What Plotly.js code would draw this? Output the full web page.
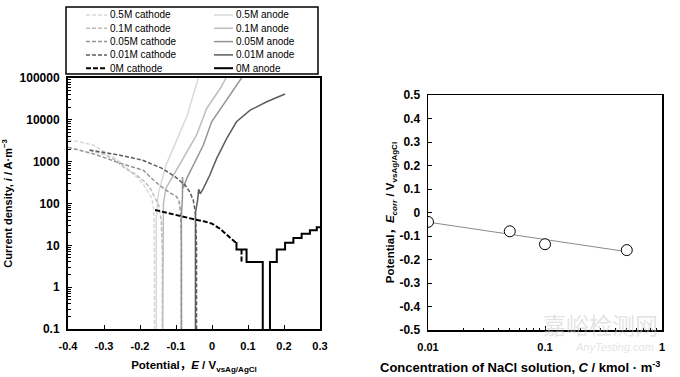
<!DOCTYPE html>
<html><head><meta charset="utf-8">
<script src="https://cdn.plot.ly/plotly-3.0.1.min.js"></script>
<style>html,body{margin:0;padding:0;background:#fff}#chart{width:680px;height:377px}</style>
</head><body><div id="chart"></div>
<script>
// ---------- Left panel: polarization curves (E in V vs Ag/AgCl, i in A/m^3) ----------
const cath05E = [-0.40,-0.37,-0.33,-0.30,-0.265,-0.228,-0.205,-0.19,-0.178,-0.170,-0.165,-0.162,-0.161,-0.160,-0.160];
const cath05I = [3400,3000,2500,1750,1150,600,400,280,200,150,110,70,30,5,0.1];
const cath01E = [-0.34,-0.30,-0.27,-0.242,-0.21,-0.186,-0.17,-0.158,-0.148,-0.141,-0.138,-0.138];
const cath01I = [1850,1500,1100,700,480,330,220,140,90,40,8,0.1];
const cath005E = [-0.40,-0.33,-0.26,-0.21,-0.19,-0.168,-0.145,-0.121,-0.10,-0.092,-0.087,-0.085,-0.085];
const cath005I = [2200,1550,950,680,620,400,270,190,150,120,60,10,0.1];
const cath001E = [-0.34,-0.30,-0.26,-0.195,-0.14,-0.103,-0.075,-0.062,-0.052,-0.046,-0.043,-0.043];
const cath001I = [1900,1650,1450,1100,700,440,275,190,120,60,10,0.1];
const cath0E = [-0.158,-0.12,-0.10,-0.07,-0.05,-0.02,0.0,0.022,0.041,0.055,0.064,0.068,null,0.082,0.082];
const cath0I = [70,58,52,46,42,37,33,25,17.5,14,12,12,null,8,4];

const anod05E = [-0.155,-0.155,-0.150,-0.144,-0.126,-0.10,-0.07,-0.038];
const anod05I = [0.1,40,150,260,900,3000,12000,100000];
const anod01E = [-0.137,-0.137,-0.135,-0.128,-0.107,-0.08,-0.043,-0.015,0.013,0.025,0.039];
const anod01I = [0.1,50,100,230,480,1200,4300,18500,43000,60000,100000];
const anod005E = [-0.085,-0.085,-0.082,-0.082,-0.08,-0.07,-0.052,-0.024,-0.001,0.031,0.05,0.082];
const anod005I = [0.1,50,150,430,230,400,830,2500,9000,22500,39000,100000];
const anod001E = [-0.046,-0.046,-0.040,-0.037,-0.033,-0.024,-0.006,0.013,0.041,0.068,0.106,0.152,0.203];
const anod001I = [0.1,60,120,220,170,230,480,1200,3600,9000,17000,27000,41500];
const anod0E = [0.068,0.068,0.096,0.096,0.141,0.141,null,0.161,0.161,0.180,0.180,0.203,0.203,0.226,0.226,0.249,0.249,0.272,0.272,0.291,0.291,0.30];
const anod0I = [12,8,8,4,4,0.1,null,0.1,4,4,8,8,11.5,11.5,15,15,19,19,23,23,27,27];

const seriesNames = ['0.5M cathode','0.1M cathode','0.05M cathode','0.01M cathode','0M cathode',
                     '0.5M anode','0.1M anode','0.05M anode','0.01M anode','0M anode'];
const potTickVals = [-0.4,-0.3,-0.2,-0.1,0,0.1,0.2,0.3];
const potTickText = ['-0.4','-0.3','-0.2','-0.1','0','0.1','0.2','0.3'];
const curTickVals = [0.1,1,10,100,1000,10000,100000];
const curTickText = ['0.1','1','10','100','1000','10000','100000'];

// ---------- Right panel: corrosion potential vs concentration ----------
const concentration = [0.01,0.05,0.1,0.5];
const ecorr = [-0.04,-0.08,-0.135,-0.16];
const ecorrTickVals = [0.5,0.4,0.3,0.2,0.1,0,-0.1,-0.2,-0.3,-0.4,-0.5];
const ecorrTickText = ['0.5','0.4','0.3','0.2','0.1','0','-0.1','-0.2','-0.3','-0.4','-0.5'];
const concTickVals = [0.01,0.1,1];
const concTickText = ['0.01','0.1','1'];

// ---------- styles ----------
const colors = ['#d9d9d9','#bdbdbd','#959595','#5c5c5c','#000000'];
const FONT = '"Liberation Sans", Arial, "Noto Sans CJK SC", sans-serif';
const W = 680, H = 377;
const px = v => v / W, py = v => 1 - v / H;

const cathE = [cath05E,cath01E,cath005E,cath001E,cath0E];
const cathI = [cath05I,cath01I,cath005I,cath001I,cath0I];
const anodE = [anod05E,anod01E,anod005E,anod001E,anod0E];
const anodI = [anod05I,anod01I,anod005I,anod001I,anod0I];

const traces = [];
for (let k = 0; k < 5; k++) {
  traces.push({x: anodE[k], y: anodI[k], type:'scatter', mode:'lines', name: seriesNames[5+k],
    line:{color: colors[k], width: k===4?2:1.5}, xaxis:'x', yaxis:'y', showlegend:false, hoverinfo:'skip'});
}
for (let k = 0; k < 5; k++) {
  traces.push({x: cathE[k], y: cathI[k], type:'scatter', mode:'lines', name: seriesNames[k],
    line:{color: colors[k], width: k===4?2:1.5, dash: k===4?'5px,2px':'4px,2px'}, xaxis:'x', yaxis:'y', showlegend:false, hoverinfo:'skip'});
}

// least-squares fit of Ecorr vs log10(C)
const lx = concentration.map(Math.log10);
const mx = lx.reduce((a,b)=>a+b,0)/lx.length, my = ecorr.reduce((a,b)=>a+b,0)/ecorr.length;
let sxy=0, sxx=0;
lx.forEach((v,i)=>{sxy+=(v-mx)*(ecorr[i]-my); sxx+=(v-mx)*(v-mx);});
const slope = sxy/sxx, icpt = my - slope*mx;
const fitX = [concentration[0], concentration[concentration.length-1]];
const fitY = fitX.map(c => icpt + slope*Math.log10(c));

traces.push({x: fitX, y: fitY, type:'scatter', mode:'lines', line:{color:'#8a8a8a', width:1},
  xaxis:'x2', yaxis:'y2', showlegend:false, hoverinfo:'skip'});
traces.push({x: concentration, y: ecorr, type:'scatter', mode:'markers',
  marker:{symbol:'circle', size:11, color:'#ffffff', line:{color:'#000000', width:1}},
  xaxis:'x2', yaxis:'y2', showlegend:false, hoverinfo:'skip'});

const xTickFont = {family: FONT, size: 11, color:'#000', weight:'bold'};
const yTickFont = {family: FONT, size: 12, color:'#000', weight:'bold'};
const titleFont = {family: FONT, size: 11.5, color:'#000', weight:'bold'};
const axBase = {showline:true, linecolor:'#000', mirror:true, ticks:'inside', ticklen:4, tickwidth:1,
  tickcolor:'#000', showgrid:false, zeroline:false};

// manual legend
const shapes = [{type:'rect', xref:'paper', yref:'paper', x0:px(66), x1:px(318), y0:py(7), y1:py(74),
  line:{color:'#000', width:1.5}}];
const annotations = [];
const rowY = [15, 28.3, 41.6, 54.9, 68.2];
for (let k = 0; k < 5; k++) {
  shapes.push({type:'line', xref:'paper', yref:'paper', x0:px(86), x1:px(107), y0:py(rowY[k]), y1:py(rowY[k]),
    line:{color: colors[k], width: k===4?2:1.5, dash: k===4?'5px,2px':'4px,2px'}});
  shapes.push({type:'line', xref:'paper', yref:'paper', x0:px(214), x1:px(233), y0:py(rowY[k]), y1:py(rowY[k]),
    line:{color: colors[k], width: k===4?2:1.5}});
  annotations.push({xref:'paper', yref:'paper', x:px(108), y:py(rowY[k]), xanchor:'left', yanchor:'middle',
    text: seriesNames[k], showarrow:false, font:{family:FONT, size:10, color:'#000'}});
  annotations.push({xref:'paper', yref:'paper', x:px(233.5), y:py(rowY[k]), xanchor:'left', yanchor:'middle',
    text: seriesNames[5+k], showarrow:false, font:{family:FONT, size:10, color:'#000'}});
}
// right x-axis title (placed to match the reference, right-aligned with the plot)
annotations.push({xref:'paper', yref:'paper', x:px(662), y:py(367), xanchor:'right', yanchor:'middle',
  text:'Concentration of NaCl solution, <i>C</i> / kmol · m<sup>-3</sup>', showarrow:false,
  font:{family:FONT, size:13, color:'#000', weight:'bold'}});
// watermark
annotations.push({xref:'paper', yref:'paper', x:px(600), y:py(324), xanchor:'center', yanchor:'middle',
  text:'嘉峪检测网', showarrow:false, font:{family:'"Noto Sans CJK SC", sans-serif', size:23, color:'rgba(200,200,200,0.5)'}});
annotations.push({xref:'paper', yref:'paper', x:px(614), y:py(347), xanchor:'center', yanchor:'middle',
  text:'<i>AnyTesting.com</i>', showarrow:false, font:{family:FONT, size:11, color:'rgba(200,200,200,0.5)'}});

const layout = {
  width: W, height: H, margin:{l:0,r:0,t:0,b:0}, paper_bgcolor:'#fff', plot_bgcolor:'#fff',
  showlegend:false, font:{family:FONT, color:'#000'},
  xaxis: Object.assign({}, axBase, {domain:[px(68), px(320)], range:[-0.4,0.3], tickmode:'array',
    tickvals: potTickVals, ticktext: potTickText, linewidth:2, anchor:'y', ticklabelstandoff:6, tickfont:xTickFont,
    title:{text:'Potential，<i>E</i> / V<sub>vsAg/AgCl</sub>', font:titleFont, standoff:10}}),
  yaxis: Object.assign({}, axBase, {domain:[py(329), py(78)], type:'log', range:[-1,5], tickmode:'array',
    tickvals: curTickVals, ticktext: curTickText, linewidth:2, anchor:'x', ticklabelstandoff:4, tickfont:yTickFont,
    minor:{ticks:'inside', ticklen:2.5, tickcolor:'#000', dtick:'D1', showgrid:false},
    title:{text:'Current density, <i>i</i> / A·m<sup>−3</sup>', font:{family:FONT, size:11, color:'#000', weight:'bold'}, standoff:6}}),
  xaxis2: Object.assign({}, axBase, {domain:[px(428), px(662)], type:'log', range:[-2,0], tickmode:'array',
    tickvals: concTickVals, ticktext: concTickText, linewidth:1.5, anchor:'y2', ticklabelstandoff:6, tickfont:xTickFont,
    minor:{ticks:'inside', ticklen:2.5, tickcolor:'#000', dtick:'D1', showgrid:false}}),
  yaxis2: Object.assign({}, axBase, {domain:[py(330), py(95)], range:[-0.5,0.5], tickmode:'array',
    tickvals: ecorrTickVals, ticktext: ecorrTickText, linewidth:1.5, anchor:'x2', ticklabelstandoff:4, tickfont:yTickFont,
    title:{text:'Potential，<i>E<sub>corr</sub></i> / V<sub>vsAg/AgCl</sub>', font:titleFont, standoff:2}}),
  shapes: shapes, annotations: annotations
};
Plotly.newPlot('chart', traces, layout, {displayModeBar:false, staticPlot:true});
</script></body></html>
